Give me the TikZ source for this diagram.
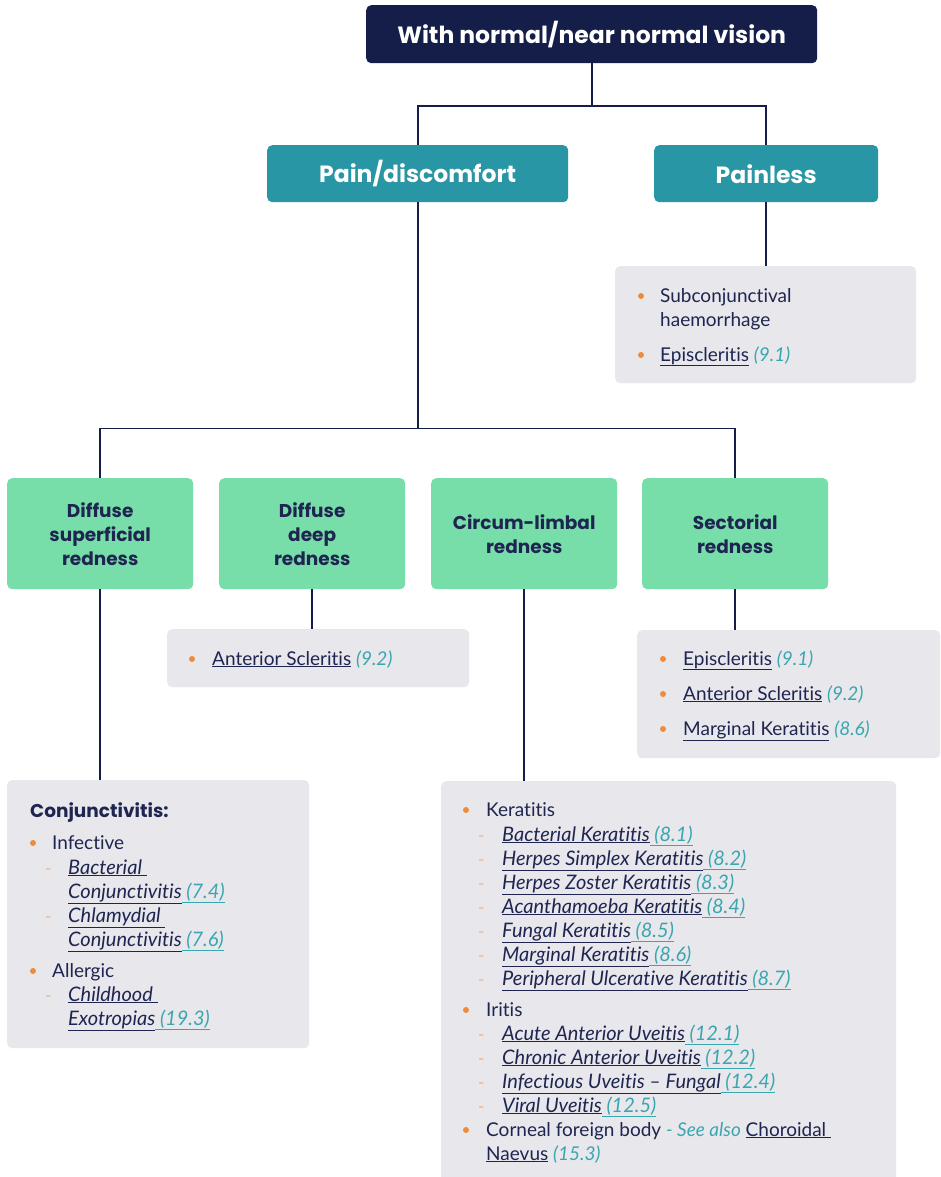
\documentclass[tikz,border=0pt]{standalone}
\usepackage{fontspec}
\setmainfont{Lato}[Ligatures=CommonOff]
\newfontfamily\headfont{Poppins}
\definecolor{navy}{HTML}{141E48}
\definecolor{tealbox}{HTML}{2896A4}
\definecolor{greenbox}{HTML}{77DDA9}
\definecolor{graybox}{HTML}{E8E7EC}
\definecolor{ink}{HTML}{1E2550}
\definecolor{bulletc}{HTML}{F08A3C}
\definecolor{dashc}{HTML}{F4B07C}
\definecolor{refc}{HTML}{3AA6AF}
\newcommand{\itsz}{\fontsize{20}{22}\selectfont}
\newcommand{\lnk}[1]{\underline{#1}}
\newcommand{\rf}[1]{\textcolor{refc}{\textit{#1}}}
\newcommand{\ilnk}[2]{{\itsz\underline{\textit{#1}}\textcolor{refc}{\underline{\textit{\ #2}}}}}
\begin{document}
\begin{tikzpicture}[x=1pt,y=-1pt,
  box/.style={rounded corners=5pt, inner sep=0pt, anchor=north west},
  headbox/.style={box, text=white, font=\headfont\bfseries\fontsize{23.5}{27}\selectfont},
  darkbox/.style={headbox, fill=navy},
  tbox/.style={headbox, fill=tealbox},
  gbox/.style={box, fill=greenbox, text=ink, align=center, minimum width=186pt, minimum height=111pt, font=\headfont\bfseries\fontsize{18.5}{24}\selectfont},
  lbox/.style={box, fill=graybox},
  conn/.style={draw=navy, line width=1.8pt},
  txt/.style={anchor=base west, inner sep=0pt, text=ink, font=\fontsize{19}{22}\selectfont},
  bul/.style={circle, fill=bulletc, minimum size=6pt, inner sep=0pt},
  dsh/.style={anchor=base west, inner sep=0pt, text=dashc, font=\fontsize{17}{20}\selectfont}
]
\clip (0,0) rectangle (941,1177);
\fill[white] (0,0) rectangle (941,1177);

% header boxes
\node[darkbox, minimum width=451pt, minimum height=58pt] (top) at (366,5) {With normal/near normal vision};
\node[tbox, minimum width=301pt, minimum height=57pt] (pain) at (267,145) {Pain/discomfort};
\node[tbox, minimum width=224pt, minimum height=57pt] (painless) at (654,145) {Painless};

% green boxes
\node[gbox] (g1) at (7,478) {Diffuse\\superficial\\redness};
\node[gbox] (g2) at (219,478) {Diffuse\\deep\\redness};
\node[gbox] (g3) at (431,478) {Circum-limbal\\redness};
\node[gbox] (g4) at (642,478) {Sectorial\\redness};

% list boxes
\node[lbox, minimum width=301pt, minimum height=117pt] (plist) at (615,266) {};
\node[lbox, minimum width=302pt, minimum height=58pt] (aslist) at (167,629) {};
\node[lbox, minimum width=303pt, minimum height=128pt] (slist) at (637,630) {};
\node[lbox, minimum width=302pt, minimum height=268pt] (clist) at (7,780) {};
\node[lbox, minimum width=455pt, minimum height=420pt] (klist) at (441,781) {};

% connectors
\draw[conn] (top.south) -- ++(0,43) -| (pain.north);
\draw[conn] (top.south) -- ++(0,43) -| (painless.north);
\draw[conn] (painless.south) -- (painless.south |- plist.north);
\draw[conn] (pain.south) -- ++(0,226) -| (g1.north);
\draw[conn] (pain.south) -- ++(0,226) -| (g4.north);
\draw[conn] (g1.south) -- (g1.south |- clist.north);
\draw[conn] (g2.south) -- (g2.south |- aslist.north);
\draw[conn] (g3.south) -- (g3.south |- klist.north);
\draw[conn] (g4.south) -- (g4.south |- slist.north);

% painless list
\node[bul] (pb1) at (641,296) {};
\node[txt] (pt1) at (660,302) {Subconjunctival};
\node[txt] (pt2) at (660,326) {haemorrhage};
\node[bul] (pb2) at (641,355) {};
\node[txt] (pt3) at (660,361) {\lnk{Episcleritis} \rf{(9.1)}};

% anterior scleritis
\node[bul] (ab1) at (192,659) {};
\node[txt] (at1) at (212,665) {\lnk{Anterior Scleritis} \rf{(9.2)}};

% sectorial list
\node[bul] (sb1) at (663,659) {};
\node[txt] (st1) at (683,665) {\lnk{Episcleritis} \rf{(9.1)}};
\node[bul] (sb2) at (663,694) {};
\node[txt] (st2) at (683,700) {\lnk{Anterior Scleritis} \rf{(9.2)}};
\node[bul] (sb3) at (663,729) {};
\node[txt] (st3) at (683,735) {\lnk{Marginal Keratitis} \rf{(8.6)}};

% conjunctivitis
\node[txt, font=\headfont\bfseries\fontsize{18.5}{22}\selectfont] (ch) at (30,817) {Conjunctivitis:};
\node[bul] (cb1) at (33,843) {};
\node[txt] (ct1) at (52,849) {Infective};
\node[dsh] (cd1) at (45,874) {-};
\node[txt] (ct2) at (68,874) {{\itsz\underline{\textit{Bacterial }}}};
\node[txt] (ct3) at (68,898) {\ilnk{Conjunctivitis}{(7.4)}};
\node[dsh] (cd2) at (45,922) {-};
\node[txt] (ct4) at (68,922) {{\itsz\underline{\textit{Chlamydial }}}};
\node[txt] (ct5) at (68,946) {\ilnk{Conjunctivitis}{(7.6)}};
\node[bul] (cb2) at (33,971) {};
\node[txt] (ct6) at (52,977) {Allergic};
\node[dsh] (cd3) at (45,1001) {-};
\node[txt] (ct7) at (68,1001) {{\itsz\underline{\textit{Childhood }}}};
\node[txt] (ct8) at (68,1025) {\ilnk{Exotropias}{(19.3)}};

% keratitis list
\node[bul] (kb1) at (466,810) {};
\node[txt] (kt0) at (486,816) {Keratitis};
\node[dsh] (kd1) at (478,841) {-};
\node[txt] (kt1) at (502,841) {\ilnk{Bacterial Keratitis}{(8.1)}};
\node[dsh] (kd2) at (478,865) {-};
\node[txt] (kt2) at (502,865) {\ilnk{Herpes Simplex Keratitis}{(8.2)}};
\node[dsh] (kd3) at (478,889) {-};
\node[txt] (kt3) at (502,889) {\ilnk{Herpes Zoster Keratitis}{(8.3)}};
\node[dsh] (kd4) at (478,913) {-};
\node[txt] (kt4) at (502,913) {\ilnk{Acanthamoeba Keratitis}{(8.4)}};
\node[dsh] (kd5) at (478,937) {-};
\node[txt] (kt5) at (502,937) {\ilnk{Fungal Keratitis}{(8.5)}};
\node[dsh] (kd6) at (478,961) {-};
\node[txt] (kt6) at (502,961) {\ilnk{Marginal Keratitis}{(8.6)}};
\node[dsh] (kd7) at (478,985) {-};
\node[txt] (kt7) at (502,985) {\ilnk{Peripheral Ulcerative Keratitis}{(8.7)}};
\node[bul] (kb2) at (466,1010) {};
\node[txt] (it0) at (486,1016) {Iritis};
\node[dsh] (id1) at (478,1040) {-};
\node[txt] (it1) at (502,1040) {\ilnk{Acute Anterior Uveitis}{(12.1)}};
\node[dsh] (id2) at (478,1064) {-};
\node[txt] (it2) at (502,1064) {\ilnk{Chronic Anterior Uveitis}{(12.2)}};
\node[dsh] (id3) at (478,1088) {-};
\node[txt] (it3) at (502,1088) {\ilnk{Infectious Uveitis -- Fungal}{(12.4)}};
\node[dsh] (id4) at (478,1112) {-};
\node[txt] (it4) at (502,1112) {\ilnk{Viral Uveitis}{(12.5)}};
\node[bul] (kb3) at (466,1130) {};
\node[txt] (ft1) at (486,1136) {Corneal foreign body \rf{- See also} \lnk{Choroidal }};
\node[txt] (ft2) at (486,1160) {\lnk{Naevus} \rf{(15.3)}};
\end{tikzpicture}
\end{document}
